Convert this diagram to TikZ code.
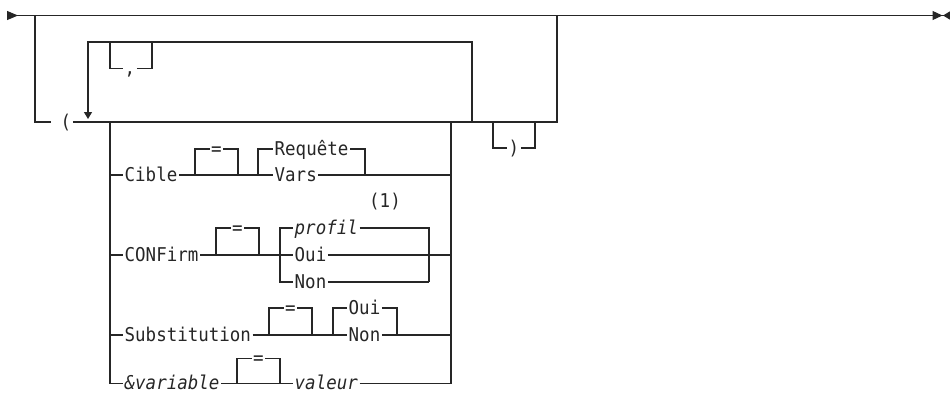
\documentclass[tikz,border=0pt]{standalone}
\usepackage{fontspec}
\newfontfamily\railfont[FakeStretch=0.92]{DejaVu Sans Mono}
\usetikzlibrary{arrows.meta}

\begin{document}
\begin{tikzpicture}[
  x=1pt, y=-1pt,
  rail/.style={draw=black!85, line width=1.2pt},
  kw/.style={inner xsep=1.5pt, inner ysep=0pt, text height=12pt, text depth=0pt, anchor=west,
             font=\railfont\fontsize{19pt}{22pt}\selectfont, text=black!85},
  var/.style={kw, font=\railfont\itshape\fontsize{19pt}{22pt}\selectfont},
  sym/.style={kw, anchor=center},
]
  \useasboundingbox (0,0) rectangle (950,394);
  \coordinate (start) at (7,15.5);
  \coordinate (stop) at (950,15.5);
  \coordinate (optL) at (35,15.5);
  \coordinate (optR) at (557,15.5);
  \coordinate (repL) at (88,42);
  \coordinate (repR) at (472,42);
  \coordinate (repLb) at (88,122);
  \coordinate (repRb) at (472,122);
  \coordinate (comL) at (110,42);
  \coordinate (comR) at (152,42);
  \coordinate (railL) at (110,122);
  \coordinate (railR) at (451,122);
  \coordinate (rpL) at (493,122);
  \coordinate (rpR) at (535,122);

  \node[kw] (lpar) at (51,122) {\hspace{8pt}(};
  \node[sym] (comma) at (130,68.3) {,};
  \node[sym] (rpar) at (514,148) {)};

  \node[kw] (cible) at (123,175) {Cible};
  \node[sym] (eqA) at (216.5,149) {=};
  \node[kw] (requete) at (273,149) {Requête};
  \node[kw] (vars) at (273,175) {Vars};

  \node[kw] (confirm) at (123,255) {CONFirm};
  \node[sym] (eqB) at (237.5,228) {=};
  \node[sym] (note) at (385,201) {(1)};
  \node[var] (profil) at (293,228) {profil};
  \node[kw] (ouiB) at (293,255) {Oui};
  \node[kw] (nonB) at (293,282) {Non};

  \node[kw] (subst) at (123,335) {Substitution};
  \node[sym] (eqC) at (290.5,308) {=};
  \node[kw] (ouiC) at (347,308) {Oui};
  \node[kw] (nonC) at (347,335) {Non};

  \node[var] (variable) at (123,383.5) {\&variable};
  \node[sym] (eqD) at (258.5,358.5) {=};
  \node[var] (valeur) at (293,383.5) {valeur};

  \coordinate (eqAl) at (195,175);
  \coordinate (eqAr) at (238,175);
  \coordinate (chA) at (258,175);
  \coordinate (chAr) at (365,175);
  \coordinate (eqBl) at (216,255);
  \coordinate (eqBr) at (259,255);
  \coordinate (chBt) at (280,228);
  \coordinate (chBb) at (280,282);
  \coordinate (chBr) at (429,282);
  \coordinate (eqCl) at (269,335);
  \coordinate (eqCr) at (312,335);
  \coordinate (chC) at (333,335);
  \coordinate (chCr) at (397,335);
  \coordinate (eqDl) at (237,383.5);
  \coordinate (eqDr) at (280,383.5);

  \draw[rail, {Triangle[reversed, length=11pt, width=9pt]}-{Triangle[length=10pt, width=9pt, sep=0.5pt]Triangle[reversed, length=7pt, width=8pt]}] (start) -- (stop);
  \draw[rail] (optL) |- (lpar.west);
  \draw[rail] (lpar.east) -| (optR);
  \draw[rail, -{Triangle[length=7pt, width=8pt]}, shorten >=3pt] (repRb) -- (repR) -- (repL) -- (repLb);
  \draw[rail] (comL) |- (comma.west);
  \draw[rail] (comma.east) -| (comR);
  \draw[rail] (rpL) |- (rpar.west);
  \draw[rail] (rpar.east) -| (rpR);

  \draw[rail] (railL) |- (variable.west);
  \draw[rail] (valeur.east) -| (railR);

  \draw[rail] (railL |- cible.west) -- (cible.west);
  \draw[rail] (cible.east) -- (vars.west);
  \draw[rail] (eqAl) |- (eqA.west);
  \draw[rail] (eqA.east) -| (eqAr);
  \draw[rail] (chA) |- (requete.west);
  \draw[rail] (requete.east) -| (chAr);
  \draw[rail] (vars.east) -- (railR |- vars.east);

  \draw[rail] (railL |- confirm.west) -- (confirm.west);
  \draw[rail] (confirm.east) -- (ouiB.west);
  \draw[rail] (eqBl) |- (eqB.west);
  \draw[rail] (eqB.east) -| (eqBr);
  \draw[rail] (profil.west) -- (chBt) -- (chBb) -- (nonB.west);
  \draw[rail] (profil.east) -| (chBr);
  \draw[rail] (nonB.east) -- (chBr);
  \draw[rail] (ouiB.east) -- (railR |- ouiB.east);

  \draw[rail] (railL |- subst.west) -- (subst.west);
  \draw[rail] (subst.east) -- (nonC.west);
  \draw[rail] (eqCl) |- (eqC.west);
  \draw[rail] (eqC.east) -| (eqCr);
  \draw[rail] (chC) |- (ouiC.west);
  \draw[rail] (ouiC.east) -| (chCr);
  \draw[rail] (nonC.east) -- (railR |- nonC.east);

  \draw[rail] (variable.east) -- (valeur.west);
  \draw[rail] (eqDl) |- (eqD.west);
  \draw[rail] (eqD.east) -| (eqDr);
\end{tikzpicture}
\end{document}
